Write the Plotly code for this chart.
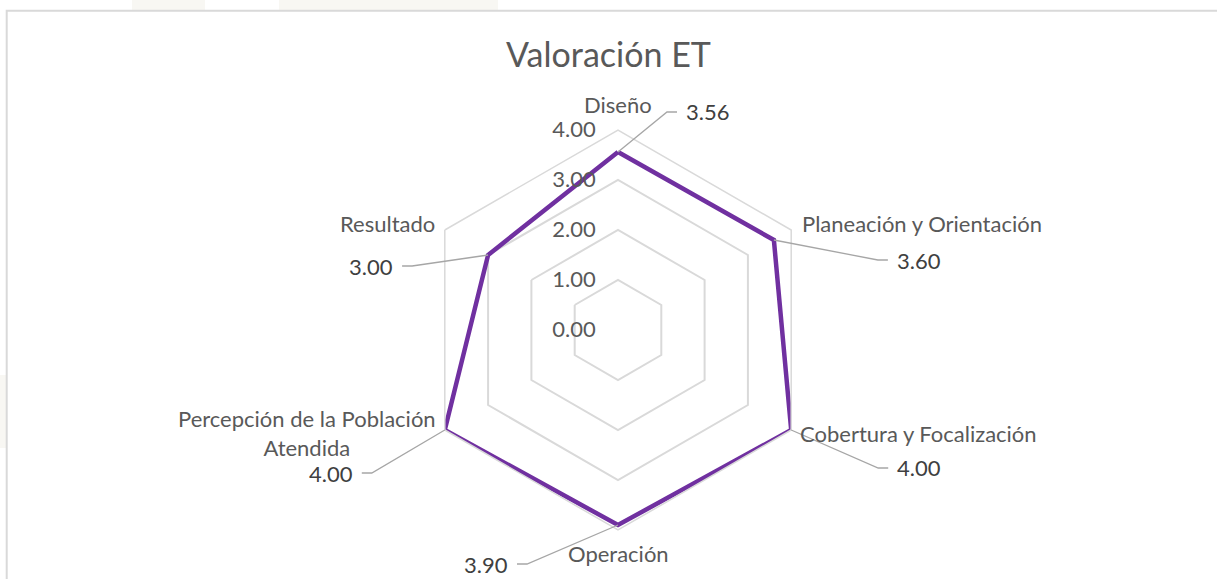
import math
import plotly.graph_objects as go

# ---- data ----
categories = ["Diseño", "Planeación y Orientación", "Cobertura y Focalización",
              "Operación", "Percepción de la Población<br>Atendida", "Resultado"]
values = [3.56, 3.60, 4.00, 3.90, 4.00, 3.00]
radial_ticks = [0, 1, 2, 3, 4]
radial_ticktext = ["0.00", "1.00", "2.00", "3.00", "4.00"]
title_text = "Valoración ET"

# ---- layout / style constants ----
W, H = 1217, 579
CX, CY, RPX = 618, 330, 200          # polar centre and outer radius in pixels
RMAX = 4
# data-label leader offsets (pixels from point to elbow) and side
leader = [(49, -40, 1), (104, 20, 1), (87, 38, 1), (-91, 39, -1), (-73, 43, -1), (-76, 11, -1)]
# category label offsets from the outer vertex (dx, dy, xanchor)
cat_offsets = [(0, -26, "center"), (9, -6, "left"), (7, 4, "left"),
               (0, 23, "center"), (-7, 2.5, "right"), (-8, -6, "right")]
FONT = "Lato, 'Open Sans', sans-serif"

def px2paper(x, y):
    return x / W, 1 - y / H

def point_px(r, i):
    ang = math.radians(i * 360 / len(values))
    return CX + r / RMAX * RPX * math.sin(ang), CY - r / RMAX * RPX * math.cos(ang)

fig = go.Figure()
fig.add_trace(go.Scatterpolar(
    r=values + values[:1], theta=categories + categories[:1],
    mode="lines", line=dict(color="#7030A0", width=4.5),
    hoverinfo="skip", showlegend=False))

shapes = [
    # faint background page pieces
    dict(type="rect", xref="paper", yref="paper", x0=132/W, x1=205/W, y0=1-10/H, y1=1,
         fillcolor="#f8f7f3", line=dict(width=0), layer="below"),
    dict(type="rect", xref="paper", yref="paper", x0=279/W, x1=498/W, y0=1-10/H, y1=1,
         fillcolor="#f8f7f3", line=dict(width=0), layer="below"),
    dict(type="rect", xref="paper", yref="paper", x0=0, x1=6/W, y0=1-448/H, y1=1-375/H,
         fillcolor="#f8f7f3", line=dict(width=0), layer="below"),
    # chart border
    dict(type="rect", xref="paper", yref="paper", x0=6.7/W, x1=1.01, y0=-0.05, y1=1-10.7/H,
         line=dict(color="#d9d9d9", width=2), fillcolor="rgba(0,0,0,0)", layer="below"),
]
annotations = []
for i, v in enumerate(values):
    x, y = point_px(v, i)
    dx, dy, side = leader[i]
    ex, ey = x + dx, y + dy
    sx = ex + 10 * side
    p0 = px2paper(x, y); p1 = px2paper(ex, ey); p2 = px2paper(sx, ey)
    shapes.append(dict(type="path", xref="paper", yref="paper",
                       path=f"M {p0[0]},{p0[1]} L {p1[0]},{p1[1]} L {p2[0]},{p2[1]}",
                       line=dict(color="#a6a6a6", width=1.3)))
    lx, ly = px2paper(sx + 7 * side, ey)
    annotations.append(dict(x=lx, y=ly, xref="paper", yref="paper", text=f"{v:.2f}",
                            showarrow=False, xanchor="left" if side > 0 else "right",
                            yanchor="middle", font=dict(size=22, color="#404040", family=FONT)))

# category labels placed just outside the outer ring
for i, cat in enumerate(categories):
    vx, vy = point_px(RMAX, i)
    dx, dy, xa = cat_offsets[i]
    cx_, cy_ = px2paper(vx + dx, vy + dy)
    annotations.append(dict(x=cx_, y=cy_, xref="paper", yref="paper", text=cat,
                            showarrow=False, xanchor=xa, yanchor="middle", align="center",
                            font=dict(size=22, color="#595959", family=FONT)))

d0 = px2paper(CX - RPX, CY + RPX)
d1 = px2paper(CX + RPX, CY - RPX)

fig.update_layout(
    width=W, height=H,
    margin=dict(l=0, r=0, t=0, b=0),
    paper_bgcolor="white",
    font=dict(family=FONT, color="#595959"),
    title=dict(text=title_text, x=0.5, xanchor="center", y=1 - 55/H, yanchor="middle",
               font=dict(size=34, color="#595959", family=FONT)),
    polar=dict(
        domain=dict(x=[d0[0], d1[0]], y=[d0[1], d1[1]]),
        gridshape="linear",
        bgcolor="white",
        radialaxis=dict(range=[0, RMAX], tickvals=radial_ticks, ticktext=radial_ticktext,
                        angle=90, tickangle=90, side="counterclockwise",
                        showline=False, ticks="outside", ticklen=14, tickcolor="rgba(0,0,0,0)",
                        gridcolor="#d9d9d9", gridwidth=1.5,
                        tickfont=dict(size=22, color="#595959", family=FONT)),
        angularaxis=dict(direction="clockwise", rotation=90, showgrid=False,
                         showline=True, linecolor="#d9d9d9", linewidth=1.5,
                         ticks="", showticklabels=False),
    ),
    shapes=shapes,
    annotations=annotations,
)

fig.write_html("out.html", post_script="document.body.style.margin='0';",
               config={"displayModeBar": False})
